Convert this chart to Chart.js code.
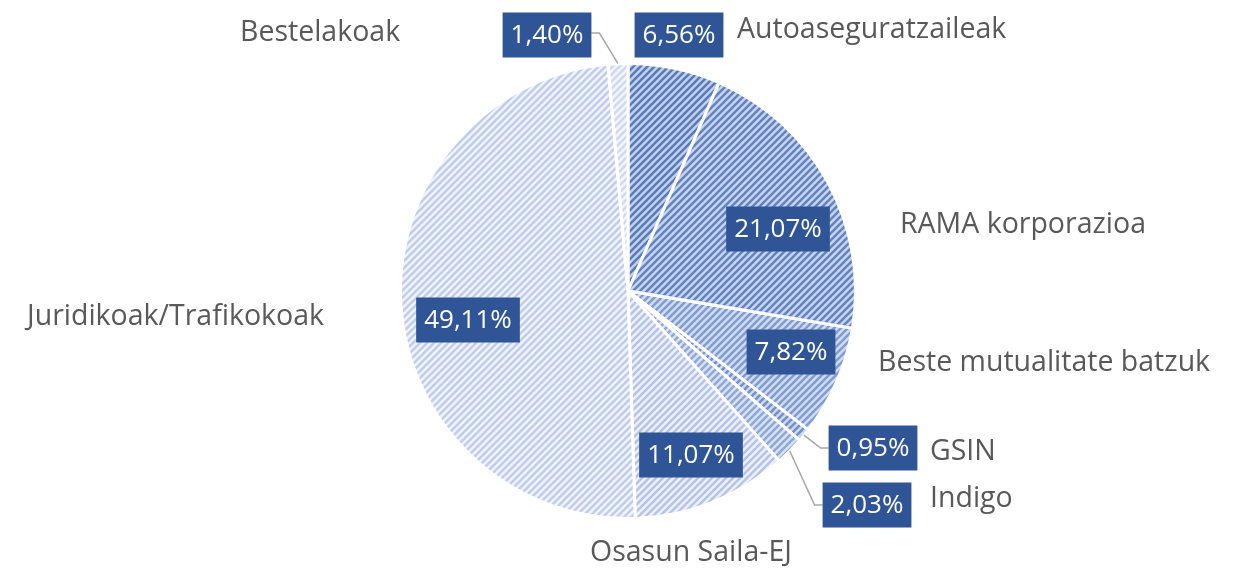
<!DOCTYPE html>
<html>
<head>
<meta charset="utf-8">
<script src="https://cdn.jsdelivr.net/npm/chart.js@4/dist/chart.umd.min.js"></script>
<style>
  html, body { margin: 0; padding: 0; background: #fff; }
  #wrap { width: 1243px; height: 569px; position: relative; }
</style>
</head>
<body>
<div id="wrap"><canvas id="sharePie"></canvas></div>
<script>
const categories = [
  'Autoaseguratzaileak', 'RAMA korporazioa', 'Beste mutualitate batzuk', 'GSIN',
  'Indigo', 'Osasun Saila-EJ', 'Juridikoak/Trafikokoak', 'Bestelakoak'
];
const shares = [6.56, 21.07, 7.82, 0.95, 2.03, 11.07, 49.11, 1.40];

// hatch colours per slice: [background, stripe]
const hatchColors = [
  ['#c6d2eb', '#587bbc'],
  ['#cad6ee', '#6384c3'],
  ['#d3ddf1', '#819cd2'],
  ['#cfdaf0', '#7390c9'],
  ['#d9e2f3', '#90a8d8'],
  ['#eef1fa', '#b5c4e8'],
  ['#f1f4fa', '#c0cdec'],
  ['#f4f6fb', '#d0d9f0']
];

// value box centre and category name position for each slice
const labelPlace = [
  { box: [679, 35], name: [737, 30] },
  { box: [778, 229], name: [900, 225] },
  { box: [791, 352], name: [878, 363] },
  { box: [873, 448], name: [930, 452], leader: true },
  { box: [867, 505], name: [930, 499], leader: true },
  { box: [691, 455], name: [590, 553] },
  { box: [468, 320], name: [27, 317] },
  { box: [547, 35], name: [240, 33], leader: true, left: true }
];

function hatch(bg, fg) {
  const s = 7;
  const c = document.createElement('canvas');
  c.width = s; c.height = s;
  const g = c.getContext('2d');
  g.fillStyle = bg;
  g.fillRect(0, 0, s, s);
  g.strokeStyle = fg;
  g.lineWidth = 2.6;
  g.beginPath();
  g.moveTo(-1, s + 1); g.lineTo(s + 1, -1);
  g.moveTo(-1, 1); g.lineTo(1, -1);
  g.moveTo(s - 1, s + 1); g.lineTo(s + 1, s - 1);
  g.stroke();
  return g.createPattern(c, 'repeat');
}

const fmt = v => v.toFixed(2).replace('.', ',') + '%';

const pieLabels = {
  id: 'pieLabels',
  afterDatasetsDraw(chart) {
    const ctx = chart.ctx;
    const arcs = chart.getDatasetMeta(0).data;
    ctx.save();
    ctx.textBaseline = 'middle';
    arcs.forEach((arc, i) => {
      const p = labelPlace[i];
      const mid = (arc.startAngle + arc.endAngle) / 2;
      const txt = fmt(shares[i]);
      ctx.font = '26px "Open Sans"';
      const w = ctx.measureText(txt).width + 16;
      const h = 45;
      const [bx, by] = p.box;
      // leader line from the slice edge to the box
      if (p.leader) {
        const ex = arc.x + Math.cos(mid) * arc.outerRadius;
        const ey = arc.y + Math.sin(mid) * arc.outerRadius;
        ctx.strokeStyle = '#a6a6a6';
        ctx.lineWidth = 1.5;
        ctx.beginPath();
        ctx.moveTo(ex, ey);
        if (p.left) {
          ctx.lineTo(bx + w / 2 + 8, by - 2);
          ctx.lineTo(bx + w / 2, by - 2);
        } else {
          ctx.lineTo(bx - w / 2 - 8, by);
          ctx.lineTo(bx - w / 2, by);
        }
        ctx.stroke();
      }
      ctx.fillStyle = '#2f5597';
      ctx.fillRect(bx - w / 2, by - h / 2, w, h);
      ctx.fillStyle = '#ffffff';
      ctx.textAlign = 'center';
      ctx.fillText(txt, bx, by + 1);
      ctx.font = '28.5px "Open Sans"';
      ctx.fillStyle = '#595959';
      ctx.textAlign = 'left';
      ctx.fillText(categories[i], p.name[0], p.name[1]);
    });
    ctx.restore();
  }
};

new Chart(document.getElementById('sharePie'), {
  type: 'pie',
  data: {
    labels: categories,
    datasets: [{
      data: shares,
      backgroundColor: hatchColors.map(c => hatch(c[0], c[1])),
      borderColor: '#ffffff',
      borderWidth: 3
    }]
  },
  options: {
    responsive: true,
    maintainAspectRatio: false,
    animation: false,
    layout: { padding: { top: 62, bottom: 49, left: 399, right: 386 } },
    plugins: {
      legend: { display: false },
      tooltip: { enabled: false }
    }
  },
  plugins: [pieLabels]
});
</script>
</body>
</html>
